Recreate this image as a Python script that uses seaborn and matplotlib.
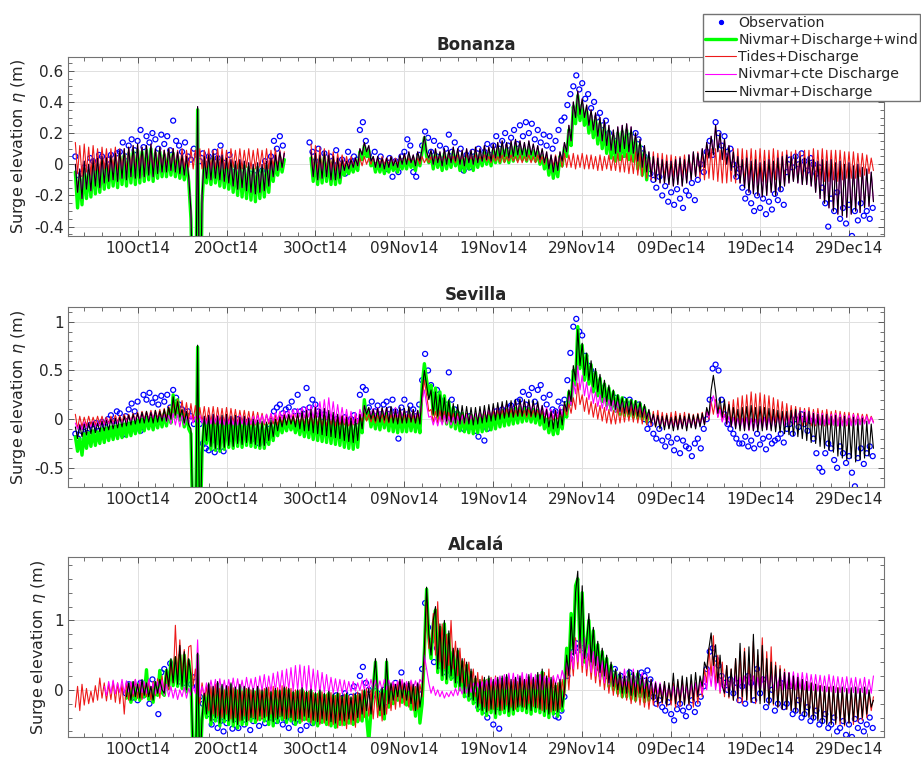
import numpy as np
import pandas as pd
import matplotlib
matplotlib.use("Agg")
import matplotlib.pyplot as plt
import matplotlib.dates as mdates
from matplotlib.lines import Line2D
from matplotlib.ticker import MultipleLocator, FuncFormatter, FixedLocator
import seaborn as sns

# Surge elevation along the Guadalquivir estuary, Oct 2014 - Jan 2015.
# All values in centimetres. Model runs are stored every 6 h, observations every 8 h,
# both starting 2014-10-03 00:00. None marks missing records.
T0 = pd.Timestamp("2014-10-03 00:00")
MODEL_FREQ = "6h"
OBS_FREQ = "8h"

# ---------------------------------------------------------------- Bonanza
BON_OBS = [
    5, -10, -6, -2, -12, 4, 2, -6, 6, 5, -3, 3, 6, -2, 7,
    8, 14, 5, 12, 16, 9, 15, 22, 11, 18, 14, 20, 16, 10, 19,
    13, 18, 9, 28, 15, 12, 8, 14, 5, 3, 10, 6, 2, 7, 0,
    5, 2, 8, 4, 12, 1, -3, 6, -5, -8, -12, -4, -10, -15, -6,
    -12, -7, -14, -4, 2, -6, 5, 15, 10, 18, 12, None, None, None, None,
    None, None, None, None, 14, 8, 2, 10, -2, 7, -3, 5, 0, 9, -4,
    3, -6, 8, 2, 5, 3, 22, 27, 15, 6, 2, 8, 0, 5, -2,
    -3, 4, -8, 2, -5, 5, 8, 16, 12, -5, -8, 6, 12, 21, 17,
    8, 15, 5, 12, 3, 10, 19, 8, 14, 2, 10, -4, 6, -2, 8,
    4, 10, 2, 8, 13, 6, 12, 18, 10, 15, 20, 12, 17, 22, 13,
    25, 18, 27, 20, 26, 16, 22, 14, 19, 12, 18, 10, 15, 22, 28,
    30, 38, 45, 50, 57, 48, 52, 42, 45, 36, 40, 30, 33, 25, 28,
    20, 12, 15, 8, 13, 6, 14, 18, 12, 20, 16, 10, 5, 0, -6,
    -10, -15, -8, -20, -14, -24, -18, -26, -16, -22, -28, -17, -20, -12, -23,
    -10, 0, -5, 8, 15, 6, 27, 20, 12, 18, 8, 10, 0, -8, -3,
    -15, -22, -18, -25, -30, -20, -28, -22, -32, -24, -29, -19, -23, -16, -26,
    -5, 3, -2, 5, 0, 7, 2, -4, 4, 0, -6, -2, -15, -25, -40,
    -22, -30, -18, -35, -28, -38, -26, -46, -30, -36, -25, -33, -30, -35, -28,
]
BON_WIND = [
    -5, -28, -8, -26, -3, -22, -4, -21, -1, -19, 0, -18, 1, -16, 0, -15, 2, -14, 3, -15,
    5, -13, 6, -14, 7, -12, 8, -13, 9, -12, 8, -11, 9, -10, 10, -11, 7, -9, 8, -8,
    6, -8, 7, -7, 7, -8, 5, -9, 3, -10, 2, -11, -35, -105, -125, 35, -125, -25, 2, -12,
    3, -13, 4, -12, 2, -14, 3, -15, 1, -16, 0, -18, -1, -20, 0, -21, -1, -22, -2, -23,
    -3, -24, -2, -22, -3, -21, -1, -18, 1, -11, 2, -7, 4, -5, 3, None, None, None, None, None,
    None, None, None, None, None, None, 4, -11, 4, -13, 3, -12, 5, -11, 3, -13, 2, -13, 1, -12,
    0, -7, -1, -6, 0, -5, 1, -4, 8, 3, 12, 5, 9, -1, 2, -5, 2, -5, 1, -6,
    1, -5, 2, -4, 0, -5, 3, -3, 4, -3, 5, -2, 3, -4, 5, -1, 8, 17, 5, 1,
    6, -3, 7, -2, 5, -4, 7, -3, 6, -2, 8, -1, 6, -4, 5, -5, 6, -3, 5, -4,
    7, -2, 6, -1, 8, 0, 7, -1, 9, 1, 10, 1, 11, 2, 10, 1, 11, 2, 12, 3,
    11, 3, 10, 2, 11, 3, 9, 2, 8, 0, 6, -3, 4, -7, 2, -9, 1, -8, 5, -1,
    11, 5, 22, 12, 37, 26, 44, 28, 38, 25, 34, 20, 31, 17, 29, 13, 26, 10, 24, 7,
    21, 4, 18, 2, 20, 3, 21, 5, 22, 3, 20, 2, 16, -3, 12, -7, 8, -10, 4,
]
BON_TIDES = [
    14, -6, 12, -8, 13, -5, 11, -7, 12, -4, 10, -6, 11, -3, 10, -5, 10, -3, 11, -4,
    10, -3, 9, -4, 10, -2, 9, -3, 9, -2, 10, -3, 9, -2, 8, -3, 9, -2, 10, -3,
    9, -2, 10, -3, 10, -2, 9, -3, 10, -3, 9, -2, 10, -3, 9, -2, 10, -3, 9, -2,
    10, -3, 9, -3, 10, -2, 10, -3, 9, -3, 10, -2, 9, -3, 10, -3, 9, -2, 10, -3,
    9, -3, 10, -2, 9, -3, 10, -3, 9, -2, 10, -2, 9, -2, 8, None, None, None, None, None,
    None, None, None, None, None, None, 13, -6, 12, -5, 11, -6, 10, -5, 9, -4, 8, -4, 7, -3,
    6, -2, 5, -2, 5, -1, 4, -1, 4, -1, 5, 0, 4, 0, 5, -1, 4, 0, 5, 0,
    4, 0, 5, 0, 4, 0, 5, 1, 5, 1, 4, 1, 5, 1, 4, 0, 5, 1, 4, 1,
    5, 1, 5, 2, 5, 1, 5, 2, 6, 2, 5, 1, 6, 2, 5, 2, 6, 2, 5, 1,
    6, 2, 5, 2, 6, 2, 5, 1, 6, 2, 5, 1, 6, 1, 5, 2, 6, 2, 5, 1,
    6, 1, 5, 2, 6, 1, 5, 1, 6, 1, 5, 0, 6, 0, 5, -1, 6, -1, 6, -2,
    7, -2, 6, -2, 7, -3, 6, -2, 7, -3, 6, -3, 6, -3, 5, -4, 6, -4, 5, -3,
    6, -4, 5, -4, 7, -5, 6, -5, 7, -6, 6, -6, 8, -7, 7, -8, 8, -9, 7, -10,
    8, -10, 7, -11, 7, -9, 6, -10, 6, -8, 5, -9, 5, -8, 6, -7, 6, -7, 7, -8,
    8, -9, 9, -10, 10, -9, 10, -10, 10, -11, 9, -12, 10, -12, 9, -11, 10, -12, 10, -12,
    10, -12, 9, -11, 10, -12, 9, -12, 10, -11, 9, -12, 9, -11, 10, -10, 9, -10, 8, -11,
    9, -10, 8, -10, 9, -10, 8, -9, 9, -10, 9, -11, 10, -11, 9, -10, 10, -11, 9, -11,
    9, -10, 9, -11, 9, -10, 8, -9, 8, -9, 8, -9, 7, -8, 7, -7, 6, -6, 4, -4,
]
BON_ND = [
    0, -18, -3, -22, 2, -16, 0, -17, 3, -14, 4, -15, 5, -12, 4, -11, 6, -10, 7, -11,
    9, -9, 10, -10, 11, -8, 12, -9, 13, -9, 11, -8, 12, -7, 13, -8, 10, -6, 11, -5,
    9, -5, 10, -4, 10, -5, 8, -6, 6, -7, 5, -8, -30, -100, -120, 37, -120, -20, 5, -9,
    6, -10, 7, -9, 5, -10, 6, -11, 4, -12, 3, -14, 2, -16, 3, -15, 2, -17, 1, -18,
    0, -19, 1, -18, 0, -17, 2, -14, 4, -8, 6, -4, 8, -2, 7, None, None, None, None, None,
    None, None, None, None, None, None, 8, -8, 7, -10, 6, -9, 8, -8, 6, -10, 5, -10, 4, -9,
    3, -4, 2, -3, 3, -2, 4, -1, 10, 6, 14, 8, 12, 2, 5, -2, 5, -2, 4, -3,
    4, -2, 5, -1, 3, -2, 6, 0, 7, 0, 8, 1, 6, -1, 8, 2, 10, 18, 8, 4,
    9, 0, 10, 1, 8, -1, 10, 0, 9, 1, 11, 2, 10, 0, 9, -1, 10, 1, 9, 0,
    11, 1, 10, 2, 12, 3, 11, 2, 13, 4, 14, 4, 15, 5, 14, 4, 15, 5, 16, 6,
    15, 6, 14, 5, 15, 6, 13, 5, 12, 3, 10, 1, 8, -3, 6, -5, 5, -4, 8, 2,
    14, 8, 25, 15, 40, 30, 47, 32, 42, 30, 38, 25, 35, 22, 33, 18, 30, 15, 28, 12,
    25, 9, 22, 7, 24, 8, 25, 10, 26, 8, 24, 7, 20, 2, 16, -2, 12, -5, 8, -8,
    5, -11, 4, -12, 3, -12, 2, -13, 2, -14, 3, -13, 4, -14, 3, -12, 6, -10, 8, -8,
    7, -5, 10, -2, 14, 4, 18, 6, 25, 8, 20, 3, 16, 0, 12, -4, 8, -8, 5, -12,
    3, -15, 4, -18, 2, -19, 3, -20, 1, -21, 2, -20, 3, -18, 2, -20, 4, -17, 5, -14,
    6, -12, 5, -11, 6, -12, 5, -13, 4, -13, 5, -14, 3, -18, 2, -22, 3, -25, 2, -28,
    3, -30, 1, -32, 2, -33, 0, -34, 1, -32, -1, -30, 0, -31, -2, -28, -3, -27, -5, -24,
]
# at the river mouth the constant-discharge run coincides with the full run
BON_CTE = list(BON_ND)

# ---------------------------------------------------------------- Sevilla
SEV_OBS = [
    -15, -20, -12, -8, -14, -6, -10, -4, -12, -3, -8, 0, 4, -2, 8,
    6, -16, 3, 10, 16, 8, 18, -12, 25, 20, 27, 17, 22, 15, 24,
    18, 25, 12, 30, 22, 15, 10, 5, 8, 3, -5, 0, -5, -25, -30,
    -32, -22, -34, -28, -15, -33, -8, -20, -5, -12, 0, -15, -10, -3, -18,
    -20, -12, -25, -15, -22, -10, -2, 8, 12, 15, 6, 10, 12, 18, 8,
    25, 8, 10, 32, 12, 20, 15, 8, 2, 5, -3, 2, -4, 0, -6,
    -3, 2, -20, 0, 4, -2, 25, 33, 30, 12, 18, 8, 14, 5, 15,
    18, 10, 20, 8, -20, 12, 20, 5, 14, 10, 3, 15, 40, 67, 50,
    35, 25, 30, 20, 12, 15, 48, 20, 10, 5, 0, -10, -5, 3, -8,
    -12, -18, -5, -22, -10, 0, 3, 8, 5, 10, 6, 12, 14, 8, 18,
    20, 28, 15, 25, 32, 18, 30, 35, 22, 15, 25, 10, 8, 18, 12,
    20, 40, 68, 95, 103, 90, 86, 65, 55, 50, 44, 38, 33, 26, 23,
    20, 15, 22, 18, 12, 20, 15, 20, 12, 10, 15, 5, 0, -10, -5,
    -15, -20, -10, -22, -28, -18, -24, -32, -20, -35, -22, -28, -30, -38, -25,
    -20, -30, -10, 0, 20, 52, 56, 50, 20, 5, -5, -10, -15, -20, -25,
    -25, -18, -28, -22, -30, -15, -26, -20, -31, -18, -25, -22, -20, -15, -24,
    -10, -5, -15, 0, -8, 5, -5, -12, -2, -20, -35, -50, -54, -35, -25,
    -30, -42, -50, -28, -35, -45, -38, -55, -69, -40, -30, -46, -35, -28, -38,
]
SEV_WIND = [
    -18, -33, -20, -37, -15, -30, -14, -28, -12, -27, -13, -25, -10, -24, -9, -22, -8, -21, -7, -20,
    -6, -19, -5, -18, -4, -17, -3, -15, -1, -14, 0, -12, 2, -10, 1, -11, 3, -9, 4, -8,
    6, -7, 10, -4, 25, 2, 20, -1, 8, -8, 5, -10, -15, -125, -135, 74, -135, -35, 0, -25,
    1, -31, 2, -32, 0, -33, 1, -31, 2, -29, 0, -30, 1, -28, -1, -29, 0, -27, -2, -28,
    -3, -29, -4, -30, -5, -30, -6, -26, -5, -22, -4, -17, -3, -14, -1, -12, 0, -11, -2, -14,
    -2, -16, -1, -18, 0, -19, 1, -21, 2, -22, 1, -23, 2, -24, 0, -25, -1, -26, -2, -27,
    -3, -29, -4, -30, -5, -31, -6, -29, 0, -14, 20, 0, 8, -8, 5, -10, 6, -11, 7, -9,
    6, -12, 7, -13, 4, -14, 6, -13, 5, -13, 7, -12, 4, -13, 3, -14, 35, 57, 40, 25,
    35, 5, 32, 2, 28, -2, 24, -5, 18, -8, 12, -10, 8, -12, 6, -13, 5, -14, 4, -15,
    4, -14, 5, -13, 5, -12, 6, -11, 7, -10, 8, -8, 9, -7, 10, -6, 10, -5, 11, -4,
    12, -3, 11, -2, 11, -3, 10, -4, 9, -6, 5, -10, 0, -14, -2, -16, -1, -15, 2, -10,
    12, 2, 28, 15, 50, 35, 95, 52, 76, 40, 66, 36, 56, 28, 48, 24, 42, 18, 36, 14,
    32, 10, 28, 8, 24, 5, 22, 4, 20, 3, 19, 2, 18, 1, 16, 0, 12, -3, 6,
]
SEV_TIDES = [
    5, -10, 3, -8, 2, -7, 3, -6, 2, -6, 3, -5, 3, -5, 2, -4, 3, -4, 4, -3,
    4, -3, 5, -2, 5, -2, 6, -1, 7, -1, 8, 0, 8, 0, 9, 0, 9, 1, 10, 0,
    11, 1, 13, 2, 18, 4, 20, 3, 19, 2, 17, 0, 16, -1, 14, -2, 12, -3, 13, -4,
    12, -4, 13, -5, 12, -4, 11, -5, 12, -5, 11, -4, 10, -5, 9, -4, 9, -5, 8, -6,
    8, -6, 7, -5, 6, -6, 5, -5, 5, -5, 4, -6, 4, -5, 5, -6, 4, -5, 5, -5,
    5, -6, 4, -5, 5, -6, 4, -6, 5, -6, 4, -7, 4, -7, 5, -6, 4, -7, 3, -6,
    4, -6, 3, -7, 3, -6, 4, -5, 5, -3, 6, -2, 5, -3, 4, -4, 4, -3, 5, -4,
    4, -4, 5, -3, 4, -4, 5, -4, 4, -3, 5, -3, 4, -4, 5, -3, 20, 40, 25, 8,
    10, -3, 8, -4, 9, -3, 8, -5, 7, -4, 6, -5, 6, -4, 5, -5, 6, -4, 5, -3,
    6, -2, 7, -1, 7, 0, 8, 1, 8, 1, 9, 2, 9, 2, 10, 3, 10, 2, 9, 3,
    10, 3, 9, 2, 10, 2, 9, 3, 9, 2, 8, 1, 8, 0, 7, -1, 8, 0, 10, 2,
    12, 4, 16, 6, 22, 10, 37, 15, 25, 8, 22, 5, 18, 2, 16, 0, 14, -2, 12, -4,
    10, -5, 9, -5, 11, -4, 12, -3, 13, -2, 14, -3, 13, -4, 12, -5, 10, -6, 9, -7,
    8, -8, 9, -9, 7, -8, 6, -9, 7, -9, 8, -8, 6, -8, 7, -9, 6, -8, 5, -7,
    6, -6, 7, -5, 10, 0, 18, 5, 20, 2, 14, -2, 16, -3, 18, -4, 20, -4, 22, -5,
    24, -5, 25, -4, 28, -3, 26, -4, 27, -5, 25, -4, 24, -5, 22, -4, 20, -5, 18, -6,
    16, -6, 14, -5, 13, -6, 12, -7, 11, -6, 12, -7, 10, -7, 11, -6, 9, -7, 10, -6,
    8, -6, 9, -7, 8, -6, 7, -7, 7, -6, 6, -5, 6, -5, 5, -4, 5, -4, 3, -3,
]
SEV_CTE = [
    -4, -10, -5, -11, -3, -9, -4, -8, -2, -8, -3, -7, -1, -6, 0, -5, 0, -5, 1, -4,
    1, -4, 2, -3, 3, -2, 4, -1, 5, 0, 6, -1, 6, 0, 7, 1, 7, 0, 6, -1,
    5, -3, 4, -5, 6, -6, 5, -8, 4, -6, 3, -5, 4, -4, 3, -3, 4, -4, 3, -5,
    4, -5, 5, -4, 4, -5, 3, -6, 4, -5, 3, -6, 3, -6, 4, -5, 3, -6, 2, -5,
    3, -5, 4, -4, 4, -4, 5, -3, 6, -2, 7, -1, 8, 0, 9, 1, 9, 1, 10, 2,
    11, 2, 12, 1, 13, 2, 14, 1, 16, 2, 18, 1, 20, 0, 22, -1, 18, -2, 15, -3,
    12, -4, 10, -5, 8, -5, 7, -4, 10, 2, 14, 6, 12, 4, 11, 3, 12, 3, 11, 4,
    12, 3, 11, 2, 12, 2, 11, 3, 10, 2, 11, 1, 10, 1, 9, 2, 20, 30, 15, 2,
    3, -6, 2, -7, 3, -6, 4, -5, 3, -6, 2, -5, 3, -5, 4, -4, 5, -4, 4, -3,
    6, -2, 7, -1, 9, 1, 10, 2, 12, 4, 13, 5, 15, 6, 16, 7, 17, 7, 18, 8,
    18, 8, 19, 7, 18, 8, 17, 7, 16, 6, 14, 4, 12, 2, 10, 1, 10, 2, 12, 4,
    16, 8, 25, 14, 38, 26, 55, 30, 45, 24, 38, 20, 33, 16, 28, 13, 25, 11, 22, 9,
    20, 8, 19, 7, 18, 7, 19, 6, 19, 6, 18, 5, 17, 5, 15, 3, 12, 0, 8, -3,
    4, -6, 3, -7, 2, -8, 1, -9, 1, -9, 0, -10, 1, -9, 2, -8, 2, -8, 1, -9,
    2, -7, 3, -5, 8, 2, 18, 24, 15, 2, 10, -3, 5, -6, 3, -8, 2, -9, 1, -10,
    1, -11, 2, -12, 1, -12, 0, -11, 1, -10, 2, -11, 2, -10, 3, -9, 4, -8, 5, -7,
    6, -6, 7, -5, 8, -4, 9, -3, 9, -3, 8, -4, 7, -5, 6, -6, 6, -6, 5, -5,
    5, -6, 6, -7, 5, -7, 4, -6, 4, -7, 5, -6, 4, -6, 3, -5, 3, -5, 2, -4,
]
SEV_ND = [
    -8, -20, -6, -18, -5, -16, -4, -15, -3, -14, -4, -13, -2, -12, -1, -11, 0, -10, 1, -9,
    2, -8, 3, -7, 4, -6, 5, -5, 6, -4, 7, -4, 8, -3, 7, -4, 9, -3, 8, -2,
    10, -2, 12, 0, 23, 4, 18, 2, 10, -4, 8, -6, -10, -120, -130, 76, -130, -30, 3, -22,
    4, -28, 5, -30, 3, -31, 4, -29, 5, -27, 3, -28, 4, -25, 2, -26, 3, -24, 1, -25,
    0, -26, -1, -28, -2, -27, -3, -22, -1, -18, 0, -12, 2, -8, 4, -6, 5, -5, 3, -8,
    6, -10, 8, -12, 9, -12, 10, -14, 12, -15, 10, -16, 11, -17, 9, -18, 7, -19, 5, -20,
    3, -22, 2, -23, 1, -24, 0, -22, 5, -10, 14, 5, 12, 0, 10, -2, 11, -3, 12, -1,
    12, -3, 13, -4, 10, -5, 12, -4, 11, -4, 13, -3, 10, -4, 9, -5, 30, 50, 35, 20,
    30, 5, 28, 3, 25, 0, 22, -2, 20, -3, 16, -4, 15, -5, 14, -4, 13, -5, 12, -6,
    12, -5, 13, -4, 14, -3, 15, -2, 16, -1, 17, 0, 18, 1, 19, 2, 19, 2, 20, 3,
    21, 3, 20, 4, 20, 3, 19, 2, 18, 0, 14, -4, 10, -8, 8, -10, 9, -9, 10, -6,
    18, 8, 30, 18, 55, 40, 92, 55, 78, 45, 68, 40, 60, 33, 52, 28, 46, 22, 40, 18,
    35, 14, 30, 10, 25, 8, 22, 6, 21, 5, 20, 4, 19, 3, 18, 2, 15, 0, 10, -4,
    5, -8, 4, -10, 3, -11, 4, -10, 2, -12, 3, -11, 4, -10, 3, -12, 5, -9, 4, -10,
    5, -8, 6, -6, 12, 4, 30, 45, 28, 6, 22, 2, 20, -5, 15, -8, 12, -10, 10, -12,
    12, -12, 13, -11, 14, -12, 12, -13, 13, -12, 12, -11, 11, -12, 10, -13, 9, -14, 8, -15,
    8, -16, 9, -17, 10, -18, 8, -20, 7, -22, 8, -24, 6, -25, 5, -28, 4, -30, 5, -32,
    3, -34, 4, -38, 2, -40, 3, -42, 1, -40, 2, -44, 0, -42, 1, -40, -2, -38, -5, -30,
]

# ---------------------------------------------------------------- Alcalá
ALC_OBS = [
    None, None, None, None, None, None, None, None, None, None, None, None, None, None, None,
    None, None, -5, 8, -12, 5, -15, 10, -8, 12, -20, 15, 5, -35, 25,
    30, 15, 38, 20, 35, 12, 25, 10, 30, 8, 18, 5, -10, -20, -25,
    -35, -50, -40, -55, -45, -60, -48, -30, -56, -42, -55, -35, -50, -40, -58,
    -45, -30, -52, -38, -48, -25, -40, -30, -45, -35, -50, -42, -55, -38, -47,
    -42, -58, -40, -52, -35, -48, -30, -45, -20, -25, -12, -18, -15, -8, -20,
    -12, -5, -18, -10, 5, -8, 20, 33, 10, 0, -10, 5, -5, -15, 0,
    -18, -8, -15, 10, -5, 25, -12, 5, -20, -15, -8, 0, 30, 125, 90,
    70, 40, 60, 35, 50, 25, 40, 20, 30, 15, 10, 20, 5, -10, 0,
    -15, -25, -10, -30, -40, -20, -50, -25, -56, -12, -20, -5, -15, -8, -22,
    -10, -20, -5, -15, 0, -10, -20, 10, -5, -12, -25, 0, -38, -40, -30,
    -10, 20, 45, 55, 67, 60, 60, 50, 65, 45, 55, 40, 30, 35, 20,
    25, 15, 30, 10, 20, 5, 15, 25, 10, 8, 18, 25, 20, 28, 15,
    -10, -20, -15, -25, -30, -18, -35, -44, -28, -20, -30, -38, -25, -15, -32,
    -20, -10, 5, 30, 55, 60, 45, 35, 20, 10, 0, 15, -5, 10, -15,
    5, -20, 20, 10, -15, 30, -5, 15, -25, -15, 0, -30, -20, 10, -25,
    -20, 5, -35, -30, -15, -40, -35, -25, -45, -40, -30, -50, -45, -35, -55,
    -50, -40, -60, -55, -45, -65, -50, -68, -42, -55, -45, -60, -50, -40, -55,
]
ALC_WIND = [
    None, None, None, None, None, None, None, None, None, None, None, None, None, None, None, None, None, None, None, None,
    None, None, None, -12, 8, -18, 10, -14, 8, -15, 10, -10, 29, -14, 3, -18, 10, -8, 28, -4,
    -8, 28, 2, 42, 6, 46, 5, 50, 2, 50, -3, 42, 15, -105, -125, 50, -125, -45, -8, -40,
    6, -50, 2, -45, 8, -52, 4, -46, 3, -50, 6, -52, 0, -55, 4, -50, 2, -50, 0, -45,
    -2, -47, 2, -43, -3, -45, 0, -50, -5, -52, -2, -47, -3, -43, 1, -47, -1, -45, -5, -50,
    -3, -47, 0, -43, -5, -45, -2, -50, -7, -52, -3, -47, -8, -50, -5, -52, -9, -54, -7, -50,
    -11, -50, -8, -48, -13, -50, -9, -46, -8, -45, -3, -40, -75, -30, 2, 40, -14, -36, 0, -42,
    40, -25, 6, -20, 4, -15, 10, -18, 6, -22, 8, -28, 4, -38, 6, -48, -20, 55, 145, 75,
    45, 95, 115, 25, 90, 15, 95, 10, 80, 15, 55, 5, 55, 0, 40, -10, 35, -15, 25, -20,
    15, -30, 10, -35, 13, -37, 15, -33, 10, -40, 13, -35, 15, -33, 17, -37, 10, -35, 13, -30,
    15, -30, 10, -33, 17, -35, 13, -31, 20, -33, 25, -37, 15, -40, 13, -35, 5, -38, 10, -30,
    5, 60, 30, 110, 60, 150, 160, 55, 140, 40, 65, 100, 35, 85, 30, 65, 20, 55, 15, 45,
    5, 35, 0, 25, -5, 20, -10, 15, -10, 25, -13, 20, -15, 23, -10, 15, -17, 13, -15,
]
ALC_TIDES = [
    -25, 5, -30, 8, -22, 2, -20, -2, -18, 6, -15, 17, -12, 10, -16, 8, -14, 12, -18, 10,
    -20, 8, -35, 12, -15, 10, -10, 15, -12, 12, -14, 10, -10, 14, -15, 12, -8, 16, -12, 20,
    -5, 25, 0, 40, 10, 93, 20, 72, 15, 58, 10, 62, 64, 5, 30, 0, -20, 10, -15, 5,
    -30, 5, -35, 8, -38, 2, -40, 0, -35, 5, -42, 3, -40, 0, -45, -2, -38, 2, -44, 0,
    -40, -2, -45, 0, -42, 2, -38, 4, -35, 5, -40, 3, -38, 6, -42, 4, -40, 2, -44, 0,
    -42, 0, -46, -2, -44, -2, -48, -4, -45, -5, -50, -3, -48, -6, -52, -4, -50, -8, -55, -5,
    -52, -6, -56, -8, -50, -5, -54, -3, -45, 0, -40, 2, -38, 0, -42, -2, -40, -4, -45, -5,
    -35, 5, -30, 8, -28, 10, -25, 12, -22, 8, -25, 10, -30, 5, -28, 8, -10, 40, 140, 60,
    60, 110, 50, 127, 40, 95, 30, 80, 35, 100, 30, 70, 20, 60, 10, 45, 5, 40, 0, 30,
    -10, 25, -20, 20, -25, 15, -30, 18, -28, 20, -25, 15, -30, 18, -22, 20, -25, 15, -28, 12,
    -22, 18, -25, 15, -20, 20, -24, 16, -26, 22, -30, 25, -28, 30, -32, 20, -30, 10, -28, 15,
    -10, 40, 0, 55, 20, 75, 30, 80, 25, 65, 20, 55, 15, 48, 10, 40, 5, 35, 0, 30,
    -5, 25, -8, 20, -10, 18, -12, 15, -15, 12, -20, 10, -18, 8, -22, 6, -25, 5, -28, 3,
    -22, 6, -25, 4, -20, 8, -24, 6, -22, 10, -26, 12, -24, 14, -20, 10, -22, 12, -25, 10,
    -20, 15, -10, 30, 10, 60, 20, 78, 5, 50, -5, 40, -10, 35, -12, 30, -15, 45, -18, 55,
    -20, 60, -15, 40, -18, 70, -20, 50, -15, 75, -18, 55, -20, 62, -22, 40, -25, 35, -28, 30,
    -28, 25, -30, 20, -32, 18, -34, 15, -35, 12, -38, 10, -40, 8, -42, 6, -45, 5, -48, 4,
    -48, 5, -50, 3, -50, 2, -52, 0, -48, 0, -50, -2, -46, -2, -44, 0, -40, -4, -30, -10,
]
ALC_CTE = [
    None, None, None, None, None, None, None, None, None, None, None, None, None, 5, -8, 12, -5, 14, -6, 10,
    -4, 15, -5, 13, -3, 12, -6, 15, -2, 14, -4, 12, -5, 15, -3, 10, -6, 12, -4, 14,
    -8, 8, -10, 5, -12, 2, -14, 0, -10, 4, -12, 2, -8, 5, -5, 72, -10, 5, -8, 10,
    -6, 14, -4, 15, -5, 16, -6, 14, -4, 15, -5, 17, -3, 16, -6, 14, -4, 18, -2, 16,
    -3, 18, -5, 20, -2, 22, -4, 20, -3, 24, -2, 26, -1, 28, -3, 30, 0, 32, -2, 35,
    -1, 36, -3, 34, -2, 35, -4, 30, -3, 28, -5, 25, -4, 22, -5, 18, -5, 16, -4, 15,
    -5, 14, -4, 12, -3, 12, -2, 10, -1, 14, 0, 16, 0, 15, 1, 14, 0, 13, -1, 15,
    0, 14, -1, 12, 1, 13, 0, 15, 0, 12, -1, 14, 1, 13, 0, 15, 10, 50, 30, 10,
    -5, 5, -8, 0, -10, -2, -12, -4, -10, -2, -9, 2, -8, 4, -6, 6, -5, 8, -4, 10,
    -3, 10, -2, 12, -1, 14, 0, 16, 0, 18, 1, 20, 2, 22, 1, 24, 2, 24, 1, 22,
    2, 25, 1, 23, 1, 24, 2, 22, 1, 22, 0, 20, 3, 18, 5, 20, 8, 22, 10, 28,
    15, 40, 20, 55, 30, 70, 40, 82, 35, 75, 30, 65, 25, 55, 20, 48, 15, 42, 10, 38,
    8, 32, 6, 28, 5, 26, 4, 30, 5, 28, 6, 30, 4, 26, 5, 25, 2, 20, 0, 15,
    -4, 12, -6, 10, -8, 8, -10, 6, -12, 5, -14, 4, -13, 6, -15, 5, -12, 8, -10, 10,
    -8, 12, -5, 20, 0, 30, 5, 35, 0, 25, -3, 18, -5, 15, -6, 18, -4, 20, -5, 18,
    -3, 20, -4, 22, -2, 20, -3, 18, -4, 19, -2, 21, -1, 22, 0, 24, 1, 25, 0, 26,
    1, 25, 2, 26, 0, 24, 1, 25, 0, 24, -1, 22, -1, 22, -2, 21, -2, 20, -3, 22,
    -3, 20, -4, 19, -4, 18, -3, 19, -5, 17, -4, 18, -5, 16, -4, 18, -6, 15, -5, 20,
]
ALC_ND = [
    None, None, None, None, None, None, None, None, None, None, None, None, None, None, None, None, None, None, None, None,
    None, None, None, -10, 10, -15, 12, -10, 8, -12, 15, -8, 10, -10, 5, -15, 12, -5, 15, 0,
    -5, 30, 5, 45, 10, 48, 8, 64, 5, 55, 0, 45, 20, -100, -120, 53, -120, -40, -5, -35,
    10, -45, 5, -40, 12, -48, 8, -42, 6, -45, 10, -47, 4, -50, 8, -44, 5, -46, 3, -40,
    2, -42, 5, -38, 0, -40, 3, -44, -2, -46, 2, -42, 0, -38, 4, -42, 2, -40, -2, -45,
    0, -42, 3, -38, -2, -40, 1, -44, -4, -46, 0, -42, -5, -44, -2, -46, -6, -48, -4, -44,
    -8, -45, -5, -42, -10, -44, -6, -40, -5, -35, 0, -30, 2, -35, 5, 45, -10, -30, 3, -36,
    45, -20, 10, -15, 8, -10, 15, -12, 10, -15, 12, -20, 8, -30, 10, -25, 0, 60, 148, 80,
    50, 100, 120, 30, 95, 20, 100, 15, 85, 20, 60, 10, 60, 5, 45, -5, 40, -10, 30, -15,
    20, -25, 15, -30, 18, -32, 20, -28, 15, -35, 18, -30, 20, -28, 22, -32, 15, -30, 18, -25,
    20, -25, 15, -28, 22, -30, 18, -26, 25, -28, 30, -32, 20, -35, 18, -30, 10, -32, 15, -25,
    0, 50, 20, 105, 50, 140, 171, 60, 150, 45, 70, 110, 40, 90, 35, 70, 25, 60, 20, 50,
    10, 40, 5, 30, 0, 25, -5, 20, -5, 30, -8, 25, -10, 28, -5, 20, -12, 18, -10, 15,
    -15, 10, -20, 8, -18, 12, -22, 10, -15, 24, -20, 15, -18, 20, -22, 18, -20, 22, -15, 25,
    -10, 20, 5, 40, 30, 60, 82, 35, 65, 10, 50, 5, -5, 35, -10, 30, -15, 45, -12, 67,
    -10, 55, -15, 62, -18, 80, -15, 58, -20, 64, -18, 45, -22, 40, -20, 35, -25, 30, -28, 25,
    -28, 24, -30, 20, -32, 18, -35, 15, -38, 12, -40, 10, -42, 8, -45, 6, -48, 5, -50, 4,
    -50, 5, -48, 3, -45, 4, -50, 2, -48, 3, -45, 4, -42, 2, -40, 4, -35, 0, -25, -15,
]

STATIONS = [
    dict(name="Bonanza", obs=BON_OBS, wind=BON_WIND, tides=BON_TIDES, cte=BON_CTE, nd=BON_ND,
         ylim=(-0.46, 0.69), yticks=[-0.4, -0.2, 0, 0.2, 0.4, 0.6], yminor=0.05),
    dict(name="Sevilla", obs=SEV_OBS, wind=SEV_WIND, tides=SEV_TIDES, cte=SEV_CTE, nd=SEV_ND,
         ylim=(-0.70, 1.155), yticks=[-0.5, 0, 0.5, 1], yminor=0.1),
    dict(name="Alcalá", obs=ALC_OBS, wind=ALC_WIND, tides=ALC_TIDES, cte=ALC_CTE, nd=ALC_ND,
         ylim=(-0.68, 1.91), yticks=[0, 1], yminor=0.2),
]

RUNS = [
    ("wind", "Nivmar+Discharge+wind", (0.0, 1.0, 0.0), 2.4, 3),
    ("tides", "Tides+Discharge", (0.93, 0.1, 0.1), 0.8, 4),
    ("cte", "Nivmar+cte Discharge", (1.0, 0.0, 1.0), 0.8, 5),
    ("nd", "Nivmar+Discharge", (0.0, 0.0, 0.0), 0.8, 6),
]


def to_frame(values_cm, freq):
    eta = np.array(values_cm, dtype=float) / 100.0
    time = pd.date_range(T0, periods=eta.size, freq=freq)
    seg = np.cumsum(np.isnan(eta))
    return pd.DataFrame({"time": time, "eta": eta, "seg": seg}).dropna()


sns.set_theme(style="ticks")
plt.rcParams.update({
    "font.family": ["DejaVu Sans"],
    "axes.edgecolor": "0.45",
    "axes.linewidth": 0.8,
    "xtick.color": "0.35",
    "ytick.color": "0.35",
    "xtick.labelcolor": "0.15",
    "ytick.labelcolor": "0.15",
    "axes.unicode_minus": False,
})

W, H = 921, 758
fig = plt.figure(figsize=(W / 100, H / 100), dpi=100)
panel_px = [(56.7, 236.0), (306.7, 487.3), (557.3, 737.0)]
left_px, right_px = 68.3, 884.0

major_dates = pd.date_range("2014-10-10", periods=9, freq="10D")
minor_dates = pd.date_range("2014-10-02", "2015-01-02", freq="2D")

for (top, bottom), st in zip(panel_px, STATIONS):
    ax = fig.add_axes([left_px / W, 1 - bottom / H, (right_px - left_px) / W, (bottom - top) / H])
    ax.set_facecolor("white")

    obs = to_frame(st["obs"], OBS_FREQ)
    sns.scatterplot(data=obs, x="time", y="eta", ax=ax, s=13, color="blue",
                    linewidth=0.9, zorder=2, legend=False)
    ax.collections[-1].set_facecolor("none")
    ax.collections[-1].set_edgecolor("blue")

    for key, _, color, lw, z in RUNS:
        df = to_frame(st[key], MODEL_FREQ)
        sns.lineplot(data=df, x="time", y="eta", units="seg", estimator=None,
                     sort=False, color=color, lw=lw, zorder=z, ax=ax, legend=False)

    ax.set_xlim(pd.Timestamp("2014-10-02 05:00"), pd.Timestamp("2015-01-01 22:30"))
    ax.set_ylim(*st["ylim"])
    ax.xaxis.set_major_locator(FixedLocator(mdates.date2num(major_dates)))
    ax.xaxis.set_minor_locator(FixedLocator(mdates.date2num(minor_dates)))
    ax.xaxis.set_major_formatter(mdates.DateFormatter("%d%b%y"))
    ax.set_yticks(st["yticks"])
    ax.yaxis.set_minor_locator(MultipleLocator(st["yminor"]))
    ax.yaxis.set_major_formatter(FuncFormatter(lambda v, p: f"{round(v, 2):g}"))

    ax.tick_params(which="both", direction="in", top=True, right=True, labelsize=11)
    ax.tick_params(which="major", length=4.5, width=0.7)
    ax.tick_params(which="minor", length=3, width=0.6)
    ax.grid(True, which="major", color="0.88", lw=0.7)
    ax.set_axisbelow(True)

    ax.set_xlabel("")
    ax.set_ylabel("Surge elevation $\\eta$ (m)", fontsize=11.5, color="0.15")
    ax.set_title(st["name"], fontsize=12, fontweight="bold", pad=5)

handles = [Line2D([], [], ls="none", marker="o", ms=3.0, mfc="blue", mec="blue", mew=0.8)]
handles += [Line2D([], [], color=c, lw=lw) for _, _, c, lw, _ in RUNS]
labels = ["Observation"] + [lab for _, lab, _, _, _ in RUNS]
fig.legend(handles, labels, loc="upper left", bbox_to_anchor=(703 / W, 1 - 14 / H),
           fontsize=10.2, frameon=True, fancybox=False, edgecolor="0.45", framealpha=1,
           borderpad=0.15, labelspacing=0.22, handlelength=2.2, handletextpad=0.15,
           borderaxespad=0)

fig.savefig("out.png", dpi=100)
